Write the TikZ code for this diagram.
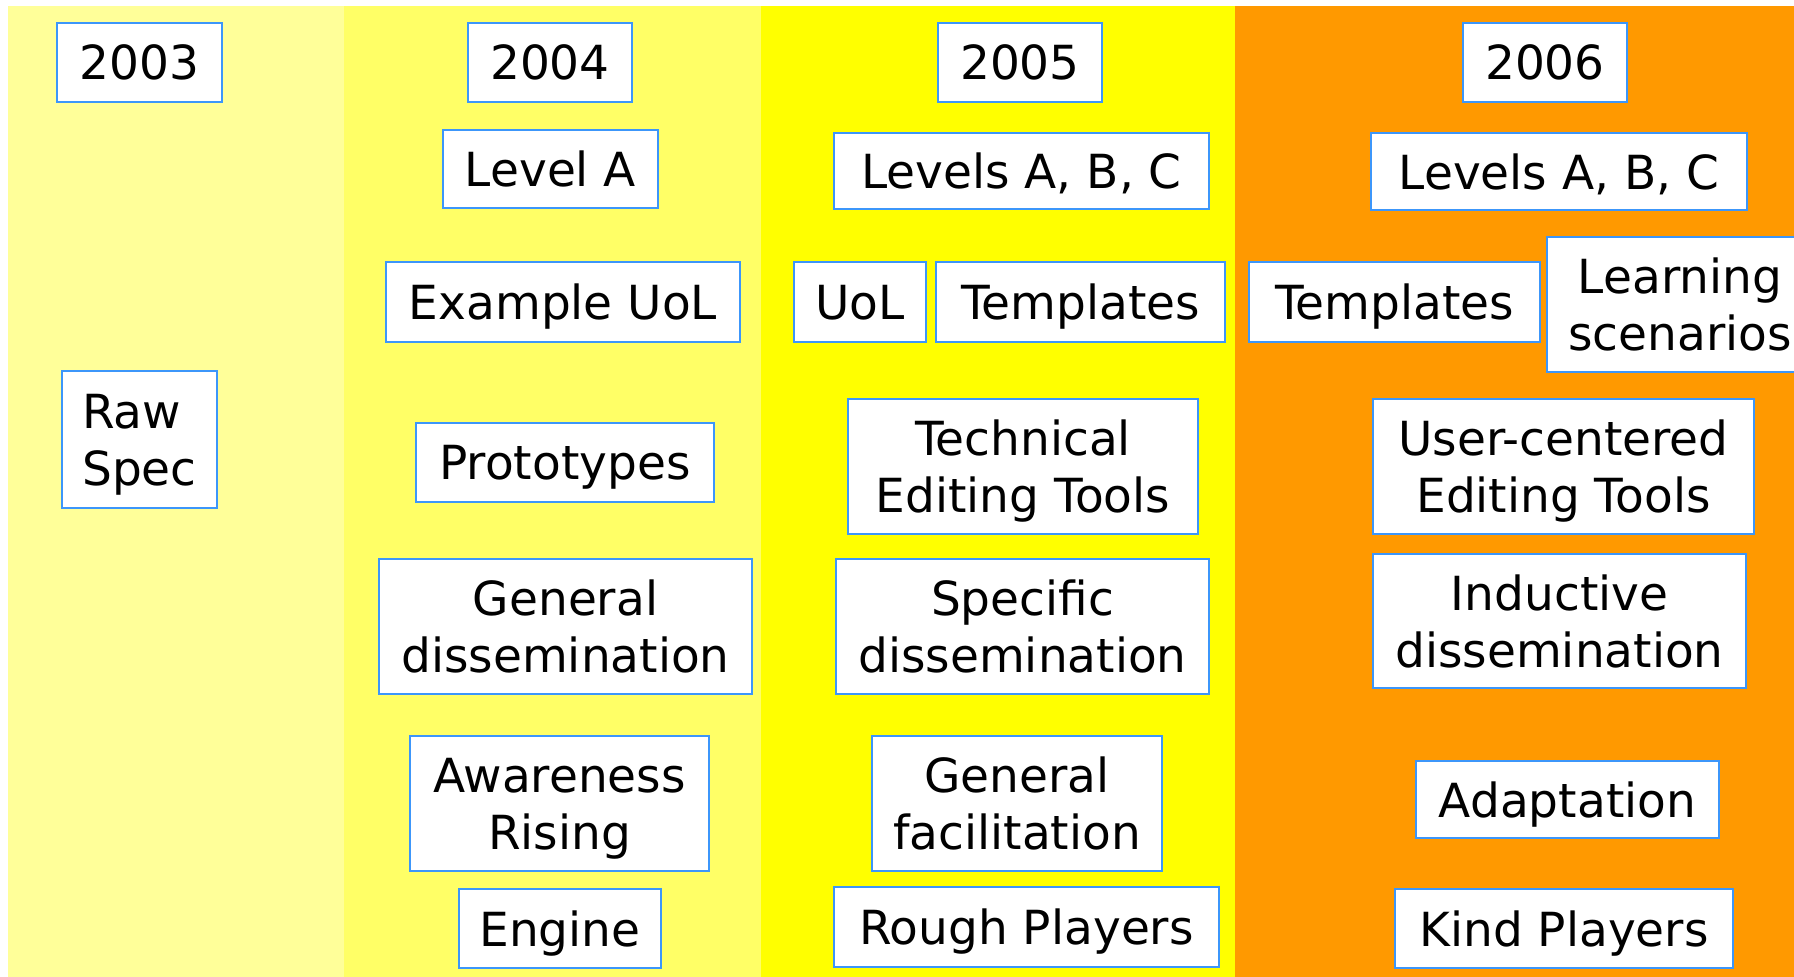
\documentclass[tikz,border=0pt]{standalone}
\usepackage{fontspec}
\setmainfont{DejaVu Sans}
\definecolor{c03}{HTML}{FFFF99}
\definecolor{c04}{HTML}{FFFF66}
\definecolor{c05}{HTML}{FFFF00}
\definecolor{c06}{HTML}{FF9900}
\definecolor{bord}{RGB}{60,150,250}
\begin{document}
\begin{tikzpicture}[x=0.5pt,y=-0.5pt,
  box/.style={draw=bord, line width=1pt, fill=white, inner sep=0pt, align=center,
    text depth=0pt, font=\fontsize{23.5}{28.5}\selectfont}]
\useasboundingbox (0,0) rectangle (1794,977);
\clip (0,0) rectangle (1794,977);
\fill[white] (0,0) rectangle (1794,977);
\fill[c03] (8,6) rectangle (344,977);
\fill[c04] (344,6) rectangle (761,977);
\fill[c05] (761,6) rectangle (1235,977);
\fill[c06] (1235,6) rectangle (1794,977);

\node[box, minimum width=82.5pt, minimum height=39.5pt] (y03) at (139.5,62.5) {2003};
\node[box, minimum width=82pt, minimum height=39.5pt] (y04) at (550,62.5) {2004};
\node[box, minimum width=82pt, minimum height=39.5pt] (y05) at (1020,62.5) {2005};
\node[box, minimum width=82pt, minimum height=39.5pt] (y06) at (1545,62.5) {2006};

\node[box, minimum width=107.5pt, minimum height=39pt] (lvA) at (550.5,169) {Level A};
\node[box, minimum width=187.5pt, minimum height=38pt] (lv05) at (1021.5,171) {Levels A, B, C};
\node[box, minimum width=188pt, minimum height=38.5pt] (lv06) at (1559,171.5) {Levels A, B, C};

\node[box, minimum width=177pt, minimum height=40pt] (exuol) at (563,302) {Example UoL};
\node[box, minimum width=66pt, minimum height=40pt] (uol) at (860,302) {UoL};
\node[box, minimum width=144.5pt, minimum height=40pt] (tm05) at (1080.5,302) {Templates};
\node[box, minimum width=145.5pt, minimum height=40pt] (tm06) at (1394.5,302) {Templates};
\node[box, minimum width=133pt, minimum height=67.5pt] (learn) at (1680,304.5) {Learning\\scenarios};

\node[box, align=left, inner xsep=9pt, minimum width=77.5pt, minimum height=68.5pt] (raw) at (139.5,439.5) {Raw\\Spec};
\node[box, minimum width=149pt, minimum height=39.5pt] (proto) at (565,462.5) {Prototypes};
\node[box, minimum width=175pt, minimum height=67.5pt] (tech) at (1023,466.5) {Technical\\Editing Tools};
\node[box, minimum width=190.5pt, minimum height=67.5pt] (user) at (1563.5,466.5) {User-centered\\Editing Tools};

\node[box, minimum width=186.5pt, minimum height=67.5pt] (gendis) at (565.5,626.5) {General\\dissemination};
\node[box, minimum width=186.5pt, minimum height=67.5pt] (specdis) at (1022.5,626.5) {Specific\\dissemination};
\node[box, minimum width=186.5pt, minimum height=67pt] (inddis) at (1559.5,621) {Inductive\\dissemination};

\node[box, minimum width=149.5pt, minimum height=67.5pt] (aware) at (559.5,803.5) {Awareness\\Rising};
\node[box, minimum width=145pt, minimum height=67.5pt] (genfac) at (1017,803.5) {General\\facilitation};
\node[box, minimum width=151.5pt, minimum height=38.5pt] (adapt) at (1567.5,799.5) {Adaptation};

\node[box, minimum width=101pt, minimum height=39.5pt] (engine) at (560,928.5) {Engine};
\node[box, minimum width=192.5pt, minimum height=40pt] (rough) at (1026.5,927) {Rough Players};
\node[box, minimum width=169pt, minimum height=39.5pt] (kind) at (1564,928.5) {Kind Players};
\end{tikzpicture}
\end{document}
